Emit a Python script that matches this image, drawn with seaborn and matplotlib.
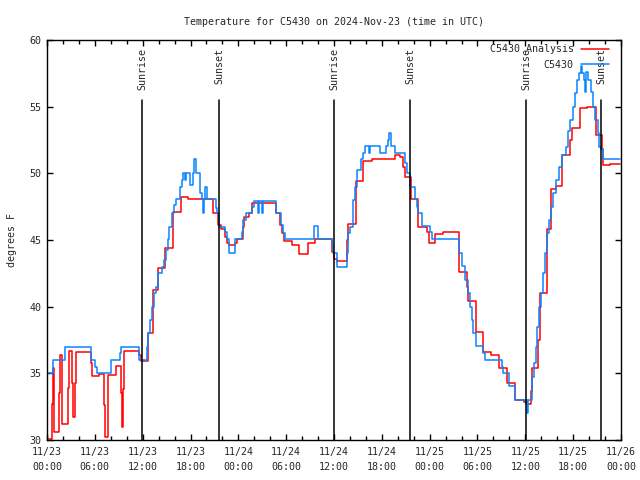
import matplotlib
matplotlib.use("Agg")
import matplotlib.pyplot as plt
import seaborn as sns
import pandas as pd
import numpy as np
from matplotlib.ticker import MultipleLocator, FixedLocator

# hours since 2024-11-23 00:00 UTC (step starts)
analysis_hours = [0.00, 0.63, 0.69, 0.88, 1.54, 1.67, 1.84, 1.92, 2.60, 2.72, 3.17, 3.30, 3.55, 3.68,
                  5.48, 5.64, 6.56, 7.19, 7.31, 7.65, 7.71, 8.66, 9.24, 9.37, 9.57, 9.70, 11.58, 11.75,
                  12.63, 13.30, 13.92, 14.80, 15.77, 16.77, 17.72, 20.79, 21.49, 21.79, 22.33, 22.54,
                  22.79, 23.58, 23.87, 24.62, 24.75, 25.34, 25.75, 28.73, 29.23, 29.52, 29.77, 30.70,
                  31.65, 32.70, 33.62, 35.71, 36.00, 36.34, 37.59, 37.80, 38.76, 39.68, 40.73, 43.65,
                  44.28, 44.62, 44.91, 45.66, 46.58, 47.71, 47.88, 48.67, 49.71, 51.72, 52.72, 52.85,
                  53.78, 54.73, 55.70, 56.74, 57.74, 58.74, 59.83, 60.09, 60.68, 60.80, 61.63, 61.78,
                  62.66, 63.22, 63.85, 64.60, 65.61, 65.82, 66.80, 67.74, 68.83, 69.56, 69.78, 70.62,
                  71.88]
analysis_temps = [30.05, 32.7, 35.4, 30.6, 33.5, 36.4, 33.75, 31.2, 33.9, 36.7, 34.3, 31.75, 34.3, 36.6,
                  35.8, 34.8, 34.95, 32.6, 30.25, 32.6, 34.9, 35.55, 33.5, 31.0, 33.85, 36.7, 36.4, 35.95,
                  38.05, 41.25, 42.9, 44.4, 47.1, 48.25, 48.05, 47.0, 46.1, 45.8, 45.25, 44.8,
                  44.6, 44.8, 45.05, 46.0, 46.7, 47.0, 47.75, 47.0, 46.1, 45.5, 44.9, 44.6,
                  43.95, 44.75, 45.05, 44.1, 43.6, 43.4, 45.0, 46.2, 49.4, 50.9, 51.1, 51.4,
                  51.25, 50.5, 49.75, 48.1, 46.0, 45.6, 44.8, 45.45, 45.6, 42.6, 41.5, 40.4,
                  38.1, 36.6, 36.4, 35.4, 34.25, 33.0, 32.85, 32.7, 33.7, 35.4, 37.5, 41.0,
                  45.8, 48.8, 49.05, 51.4, 52.5, 53.4, 54.9, 54.95, 52.9, 51.8, 50.6, 50.7,
                  50.7]

obs_hours = [0.00, 0.79, 2.30, 5.48, 6.02, 6.23, 7.99, 9.16, 9.32, 11.58, 12.51, 12.71, 12.92, 13.17,
             13.42, 13.67, 13.92, 14.39, 14.71, 14.93, 15.14, 15.30, 15.72, 15.93, 16.14, 16.68, 16.90,
             17.10, 17.31, 17.44, 17.98, 18.28, 18.44, 18.65, 19.19, 19.41, 19.57, 19.69, 19.82, 20.01,
             21.20, 21.36, 21.61, 22.33, 22.62, 22.83, 23.58, 24.42, 24.62, 24.96, 25.75, 25.97, 26.51,
             26.63, 27.03, 27.13, 28.73, 29.32, 29.64, 29.85, 33.49, 34.03, 35.71, 35.91, 36.34, 37.59,
             37.80, 38.01, 38.42, 38.64, 38.92, 39.35, 39.68, 39.89, 40.39, 40.52, 41.77, 42.52, 42.81,
             42.96, 43.15, 43.65, 44.91, 45.20, 45.54, 46.16, 46.38, 46.50, 47.00, 48.04, 48.26, 51.72,
             52.06, 52.43, 52.85, 53.06, 53.27, 53.48, 53.81, 54.73, 54.94, 57.04, 57.24, 57.99, 58.71,
             60.21, 60.30, 60.88, 61.13, 61.30, 61.43, 61.72, 61.97, 62.22, 62.47, 62.72, 62.97, 63.22,
             63.47, 63.85, 64.23, 64.60, 65.10, 65.39, 65.61, 65.94, 66.23, 66.52, 66.77, 66.98, 67.15,
             67.36, 67.53, 67.61, 67.90, 68.24, 68.45, 68.74, 69.08, 69.28, 69.46, 69.71, 71.88]
obs_temps = [35.0, 35.97, 37.0, 36.0, 35.5, 35.0, 36.0, 36.5, 37.0, 36.0, 37.0, 38.0, 39.0, 40.0,
             41.0, 41.5, 42.5, 43.0, 43.5, 44.25, 45.1, 46.0, 47.0, 47.6, 48.05, 49.0, 49.5,
             50.0, 49.5, 50.0, 49.1, 50.0, 51.05, 50.0, 48.55, 48.05, 47.0, 48.05, 49.0, 48.05,
             47.4, 47.0, 45.95, 45.6, 45.1, 44.0, 45.05, 45.6, 46.5, 47.0, 47.5, 47.9, 47.0,
             47.9, 47.0, 47.9, 47.0, 46.1, 45.5, 45.05, 46.05, 45.05, 44.6, 44.0, 43.0, 44.0,
             45.5, 46.0, 48.0, 49.0, 50.25, 51.1, 51.5, 52.05, 51.5, 52.05, 51.5, 52.05, 52.5,
             53.0, 52.05, 51.5, 50.75, 50.0, 49.0, 48.1, 47.5, 47.0, 46.05, 45.6, 45.05, 44.0,
             43.05, 42.0, 41.0, 40.0, 39.0, 38.0, 37.05, 36.5, 36.0, 35.5, 35.05, 34.05, 33.0,
             32.0, 33.0, 34.75, 35.8, 37.0, 38.5, 40.0, 41.0, 42.5, 44.0, 45.5, 46.5, 47.5,
             48.5, 49.5, 50.5, 51.4, 52.0, 53.2, 54.0, 55.0, 56.0, 57.0, 57.5, 58.05, 57.5,
             57.0, 56.1, 57.6, 57.0, 56.1, 55.0, 54.0, 53.0, 52.0, 51.8, 51.1, 51.1]

sun_hours = [11.92, 21.58, 36.00, 45.53, 60.09, 69.49]
sun_labels = ["Sunrise", "Sunset", "Sunrise", "Sunset", "Sunrise", "Sunset"]

tick_hours = [0, 6, 12, 18, 24, 30, 36, 42, 48, 54, 60, 66, 72]
tick_labels = ["11/23\n00:00", "11/23\n06:00", "11/23\n12:00", "11/23\n18:00",
               "11/24\n00:00", "11/24\n06:00", "11/24\n12:00", "11/24\n18:00",
               "11/25\n00:00", "11/25\n06:00", "11/25\n12:00", "11/25\n18:00",
               "11/26\n00:00"]

sns.set_style("ticks")
plt.rcParams['font.family'] = ['DejaVu Sans Mono']
FS = 7.2
plt.rcParams['font.size'] = FS

red = "#ff0000"
blue = "#0a84ff"

fig = plt.figure(figsize=(6.4, 4.8), dpi=100)
ax = fig.add_axes([47/640, 40/480, (621-47)/640, 400/480])

df_a = pd.DataFrame({"hours": analysis_hours, "temp": analysis_temps})
df_o = pd.DataFrame({"hours": obs_hours, "temp": obs_temps})

sns.lineplot(data=df_a, x="hours", y="temp", ax=ax, color=red, lw=1.1,
             drawstyle="steps-post", estimator=None, sort=False, label="C5430 Analysis")
sns.lineplot(data=df_o, x="hours", y="temp", ax=ax, color=blue, lw=1.1,
             drawstyle="steps-post", estimator=None, sort=False, label="C5430")

for h, lab in zip(sun_hours, sun_labels):
    ax.plot([h, h], [30, 55.5], color="black", lw=1.1)
    ax.text(h, 59.4, lab, rotation=90, ha="center", va="top", fontsize=FS)

ax.set_xlim(0, 72)
ax.set_ylim(30, 60)
ax.xaxis.set_major_locator(FixedLocator(tick_hours))
ax.set_xticklabels(tick_labels, linespacing=1.6)
ax.xaxis.set_minor_locator(MultipleLocator(2))
ax.yaxis.set_major_locator(MultipleLocator(5))
ax.tick_params(which="both", direction="in", top=True, right=True, color="black", width=1)
ax.tick_params(which="major", length=4, labelsize=FS)
ax.tick_params(axis="x", which="major", pad=5)
ax.tick_params(axis="y", which="major", pad=4)
ax.tick_params(which="minor", length=3)
for s in ax.spines.values():
    s.set_visible(True)
    s.set_color("black")
    s.set_linewidth(1)

ax.set_xlabel("")
ax.set_ylabel("degrees F", fontsize=FS, labelpad=9)
ax.set_title("Temperature for C5430 on 2024-Nov-23 (time in UTC)", fontsize=FS, pad=11)

leg = ax.legend(loc="upper right", bbox_to_anchor=(1.0, 1.02), frameon=False, markerfirst=False,
                handlelength=2.8, handletextpad=0.7, labelspacing=0.55, borderaxespad=0.83,
                fontsize=FS)

fig.savefig("out.png", dpi=100)
